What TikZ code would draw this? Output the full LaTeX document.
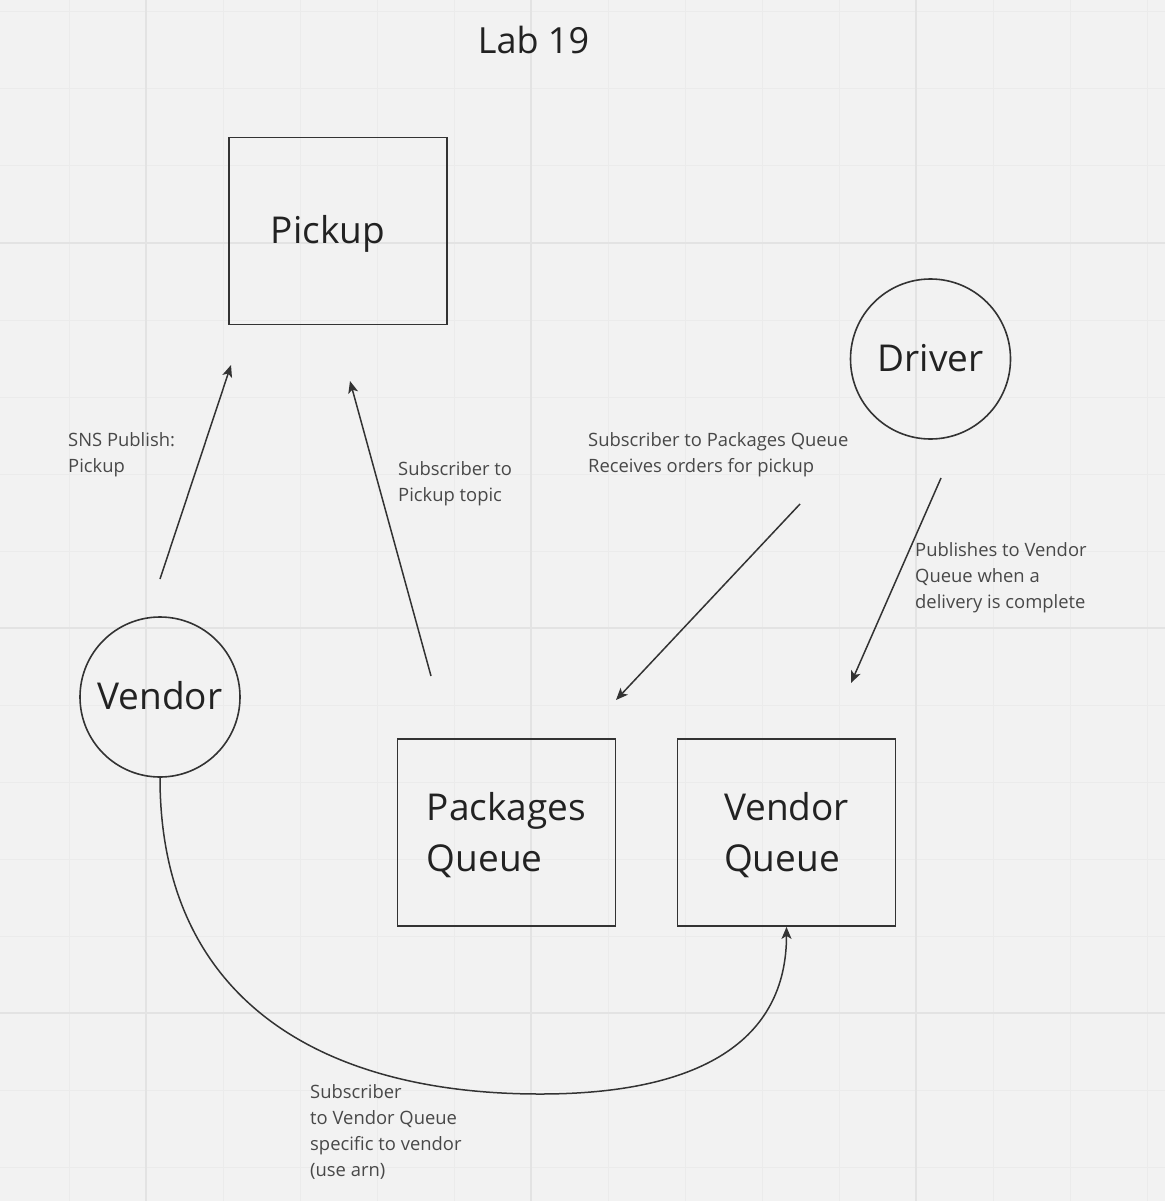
\documentclass[tikz,border=0pt]{standalone}
\usepackage{fontspec}
\setmainfont{Open Sans}
\usetikzlibrary{shapes,arrows.meta}
\definecolor{board}{HTML}{F2F2F2}
\definecolor{gridminor}{HTML}{EBEBEB}
\definecolor{gridmajor}{HTML}{E3E3E3}
\definecolor{ink}{HTML}{333333}
\definecolor{textdark}{HTML}{222222}
\definecolor{textgray}{HTML}{484848}
\tikzstyle{box}=[rectangle,draw=ink,line width=1.8pt,minimum width=218pt,minimum height=187pt,inner sep=0pt,text=textdark,font=\fontsize{37}{51.7}\selectfont]
\tikzstyle{queue}=[box,align=left,text depth=1pt]
\tikzstyle{oneline}=[text height=28pt,text depth=4pt]
\tikzstyle{actor}=[circle,draw=ink,line width=1.6pt,minimum size=160pt,inner sep=0pt,text=textdark,font=\fontsize{37}{51.7}\selectfont,oneline]
\tikzstyle{note}=[anchor=base west,align=left,inner sep=0pt,text=textgray,font=\fontsize{18.4}{26}\selectfont]
\tikzstyle{flow}=[draw=ink,line width=1.5pt,-{Stealth[length=12pt,width=10pt,inset=3pt]}]

\begin{document}
\begin{tikzpicture}[x=1pt,y=-1pt]
    \useasboundingbox (0,0) rectangle (1165,1201);
    \fill[board] (0,0) rectangle (1165,1201);
    \foreach \gx in {69,146,...,1147} \draw[gridminor,line width=1pt] (\gx,0) -- (\gx,1201);
    \foreach \gy in {12,89,...,1167} \draw[gridminor,line width=1pt] (0,\gy) -- (1165,\gy);
    \foreach \gx in {146,531,916} \draw[gridmajor,line width=2pt] (\gx,0) -- (\gx,1201);
    \foreach \gy in {243,628,1013} \draw[gridmajor,line width=2pt] (0,\gy) -- (1165,\gy);

    \node[text=textdark,font=\fontsize{36}{44}\selectfont] (title) at (533.5,40.5) {Lab 19};

    \node[box,oneline] (pick) at (338,231)   {Pickup\hspace*{20pt}};
    \node[actor] (drv) at (930.5,359)   {Driver};
    \node[actor] (vend) at (160,697)   {Vendor};
    \node[queue] (pq) at (506.5,832.5)   {Packages\\Queue};
    \node[queue] (vq) at (786.5,832.5)   {Vendor\\Queue};

%    free ends of the arrows
    \coordinate (pub1) at (160,579);
    \coordinate (pub2) at (231,365);
    \coordinate (sub1) at (431,676);
    \coordinate (sub2) at (350,381);
    \coordinate (drv1) at (800,504);
    \coordinate (drv2) at (616,700);
    \coordinate (drv3) at (941,478);
    \coordinate (drv4) at (851,683);

    \draw[flow] (pub1) -- (pub2);
    \draw[flow] (sub1) -- (sub2);
    \draw[flow] (drv1) -- (drv2);
    \draw[flow] (drv3) -- (drv4);
    \draw[flow] (vend.south) .. controls +(0,221) and +(-220,0) .. (540,1094)
        .. controls +(160,0) and +(0,114) .. (vq.south);

%    notes sit on the baseline of their last line
    \node[note] (lpub) at (68,472) {SNS Publish:\\Pickup};
    \node[note] (lsub) at (398,501) {Subscriber to\\Pickup topic};
    \node[note] (lpq) at (588,472) {Subscriber to Packages Queue\\Receives orders for pickup};
    \node[note] (lvq) at (915,608) {Publishes to Vendor\\Queue when a\\delivery is complete};
    \node[note] (larn) at (310,1176) {Subscriber\\to Vendor Queue\\specific to vendor\\(use arn)};
\end{tikzpicture}
\end{document}
